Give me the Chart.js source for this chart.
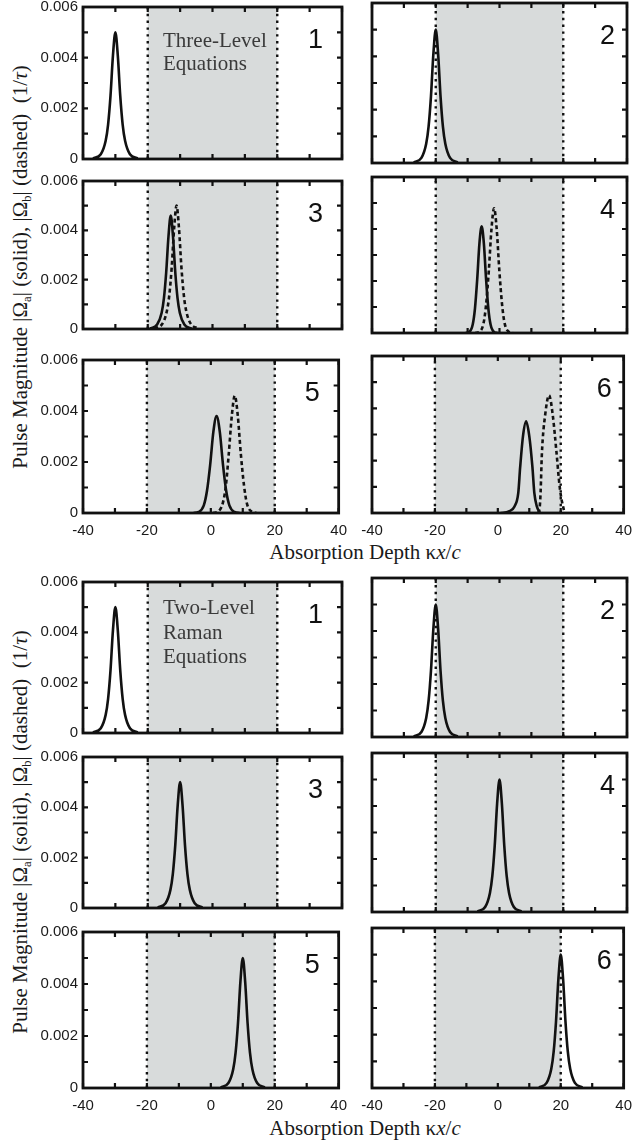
<!DOCTYPE html>
<html>
<head>
<meta charset="utf-8">
<title>Pulse magnitude panels</title>
<script src="https://cdn.jsdelivr.net/npm/chart.js@4.4.0/dist/chart.umd.min.js"></script>
<style>
  html, body { margin: 0; padding: 0; overflow: hidden; background: #fff; }
  body { position: relative; width: 636px; height: 1145px; }
  .panel { position: absolute; }
  .ytitle {
    position: absolute; white-space: nowrap; color: #1a1a1a;
    font: 21px "Liberation Serif", "Times New Roman", serif; line-height: 21px;
    transform: translate(-50%, -50%) rotate(-90deg);
  }
  .ytitle sub { font-size: 60%; vertical-align: -0.25em; }
  .xtitle {
    position: absolute; white-space: nowrap; color: #1a1a1a;
    font: 21px "Liberation Serif", "Times New Roman", serif; line-height: 21px;
    transform: translateX(-50%);
  }
</style>
</head>
<body>

<div class="ytitle" style="left:24px; top:267px;">Pulse Magnitude |&Omega;<sub>a</sub>| (solid), |&Omega;<sub>b</sub>| (dashed)&nbsp; (1/<i>&tau;</i>)</div>
<div class="ytitle" style="left:24px; top:832px;">Pulse Magnitude |&Omega;<sub>a</sub>| (solid), |&Omega;<sub>b</sub>| (dashed)&nbsp; (1/<i>&tau;</i>)</div>
<div class="xtitle" style="left:365px; top:542px;">Absorption Depth &kappa;<i>x</i>/<i>c</i></div>
<div class="xtitle" style="left:365px; top:1118px;">Absorption Depth &kappa;<i>x</i>/<i>c</i></div>

<script>
// axis ticks
var xTicks = [-40, -20, 0, 20, 40];
var xMinor = [-40, -30, -20, -10, 0, 10, 20, 30, 40];
var yTicks = [0, 0.002, 0.004, 0.006];
var yMinor = [0, 0.001, 0.002, 0.003, 0.004, 0.005, 0.006];
var mediumEdges = [-20, 20];
var panelNames = ['1', '2', '3', '4', '5', '6'];
var threeLevelNote = ['Three-Level', 'Equations'];
var ramanNote = ['Two-Level', 'Raman', 'Equations'];

// three-level equations, |Omega_a| (solid)
var threeSolidX = [
  [-36.9, -34.5, -33, -32.25, -31.5, -30.75, -30, -29.25, -28.5, -27.75, -27, -25.5, -23.1],
  [-26.9, -24.5, -23, -22.25, -21.5, -20.75, -20, -19.25, -18.5, -17.75, -17, -15.5, -13.1],
  [-19.3, -17.1, -15.7, -15, -14.3, -13.6, -12.9, -12.2, -11.5, -10.8, -10.1, -8.7, -6.5],
  [-10.6, -9.5, -8.4, -7.7, -7, -6.3, -5.6, -4.9, -4.2, -3.5, -2.8, -1.7, -0.6],
  [-5.4, -3.8, -2.2, -1.2, -0.2, 0.8, 1.8, 2.8, 3.8, 4.8, 5.8, 7.4, 9],
  [1, 3.5, 5.3, 6.5, 7.1, 8, 9, 10, 11, 11.6, 12.4, 13.4]
];
var threeSolidY = [
  [0.000025, 0.00019, 0.00072, 0.00136, 0.0025, 0.00408, 0.005, 0.00408, 0.0025, 0.00136, 0.00072, 0.00019, 0.000025],
  [0.000025, 0.00019, 0.00072, 0.00136, 0.0025, 0.00408, 0.005, 0.00408, 0.0025, 0.00136, 0.00072, 0.00019, 0.000025],
  [0.00002, 0.00018, 0.00066, 0.00125, 0.0023, 0.00375, 0.0046, 0.00375, 0.0023, 0.00125, 0.00066, 0.00018, 0.00002],
  [0, 0.00004, 0.00033, 0.00094, 0.00205, 0.00344, 0.0041, 0.00344, 0.00205, 0.00094, 0.00033, 0.00004, 0],
  [0, 0.00004, 0.0003, 0.00087, 0.0019, 0.00319, 0.0038, 0.00319, 0.0019, 0.00087, 0.0003, 0.00004, 0],
  [0, 0.00006, 0.00025, 0.00077, 0.00175, 0.00294, 0.0035, 0.00294, 0.00175, 0.00077, 0.00025, 0]
];

// three-level equations, |Omega_b| (dashed)
var threeDashX = [
  [],
  [],
  [-18, -15.6, -14.1, -13.35, -12.6, -11.85, -11.1, -10.35, -9.6, -8.85, -8.1, -6.6, -4.2],
  [-7.6, -6.3, -5, -4.2, -3.35, -2.5, -1.7, -0.9, -0.05, 0.8, 1.6, 2.9, 4.2],
  [0.7, 2.2, 3.7, 4.7, 5.6, 6.6, 7.5, 8.4, 9.4, 10.4, 11.3, 12.8, 14.3],
  [12.8, 13.3, 13.6, 14, 15.1, 16.3, 17.4, 18.7, 19.4, 20, 21.2]
];
var threeDashY = [
  [],
  [],
  [0.000025, 0.00019, 0.00072, 0.00136, 0.0025, 0.00408, 0.005, 0.00408, 0.0025, 0.00136, 0.00072, 0.00019, 0.000025],
  [0, 0.00005, 0.00038, 0.0011, 0.0024, 0.00403, 0.0048, 0.00403, 0.0024, 0.0011, 0.00038, 0.00005, 0],
  [0, 0.00005, 0.00037, 0.00106, 0.0023, 0.00386, 0.0046, 0.00386, 0.0023, 0.00106, 0.00037, 0.00005, 0],
  [0, 0.0002, 0.0008, 0.00225, 0.0038, 0.0045, 0.0038, 0.00225, 0.0013, 0.0007, 0]
];

// two-level Raman equations, |Omega_a| (solid)
var ramanX = [
  [-36.9, -34.5, -33, -32.25, -31.5, -30.75, -30, -29.25, -28.5, -27.75, -27, -25.5, -23.1],
  [-26.9, -24.5, -23, -22.25, -21.5, -20.75, -20, -19.25, -18.5, -17.75, -17, -15.5, -13.1],
  [-16.9, -14.5, -13, -12.25, -11.5, -10.75, -10, -9.25, -8.5, -7.75, -7, -5.5, -3.1],
  [-6.9, -4.5, -3, -2.25, -1.5, -0.75, 0, 0.75, 1.5, 2.25, 3, 4.5, 6.9],
  [3.1, 5.5, 7, 7.75, 8.5, 9.25, 10, 10.75, 11.5, 12.25, 13, 14.5, 16.9],
  [13.1, 15.5, 17, 17.75, 18.5, 19.25, 20, 20.75, 21.5, 22.25, 23, 24.5, 26.9]
];
var ramanY = [0.000025, 0.00019, 0.00072, 0.00136, 0.0025, 0.00408, 0.005, 0.00408, 0.0025, 0.00136, 0.00072, 0.00019, 0.000025];

// page layout
var colLeft = [83, 372];
var colRight = [342, 627];
var axisRoom = [83, 22];
var groups = [
  { tops: [3, 177, 356], bottoms: [163, 333, 513], note: threeLevelNote, noteTop: 40, noteStep: 22.5 },
  { tops: [578, 753, 928], bottoms: [737, 912, 1088], note: ramanNote, noteTop: 32, noteStep: 24.5 }
];

var tickFont = { family: '"Liberation Sans", Arial, sans-serif', size: 15 };

function pts(xs, ys) {
  return xs.map(function (x, i) { return { x: x, y: ys[i] }; });
}

function edgeLine(v) {
  return {
    data: [{ x: v, y: 0 }, { x: v, y: 0.006 }],
    showLine: true, pointRadius: 0, borderColor: '#111', borderWidth: 2.4,
    borderDash: [2.4, 4.4], borderCapStyle: 'butt'
  };
}

function pulse(xs, ys, dashed) {
  return {
    data: pts(xs, ys),
    showLine: true, pointRadius: 0, borderColor: '#111', borderWidth: 2.6,
    borderDash: dashed ? [4, 3] : [], cubicInterpolationMode: 'monotone', fill: false
  };
}

function framePlugin(info) {
  return {
    id: 'frame' + info.k,
    beforeDatasetsDraw: function (chart) {
      var a = chart.chartArea, sx = chart.scales.x, ctx = chart.ctx;
      var x0 = sx.getPixelForValue(mediumEdges[0]);
      var x1 = sx.getPixelForValue(mediumEdges[1]);
      ctx.save();
      ctx.fillStyle = '#d8dbdb';
      ctx.fillRect(x0, a.top, x1 - x0, a.bottom - a.top);
      ctx.restore();
    },
    afterDraw: function (chart) {
      var a = chart.chartArea, sx = chart.scales.x, sy = chart.scales.y, ctx = chart.ctx;
      ctx.save();
      ctx.strokeStyle = '#111';
      ctx.lineWidth = 2.2;
      ctx.beginPath();
      xMinor.forEach(function (v) {
        var p = sx.getPixelForValue(v);
        ctx.moveTo(p, a.top); ctx.lineTo(p, a.top + 5);
        ctx.moveTo(p, a.bottom); ctx.lineTo(p, a.bottom - 5);
      });
      yMinor.forEach(function (v) {
        var p = sy.getPixelForValue(v);
        ctx.moveTo(a.left, p); ctx.lineTo(a.left + 5, p);
        ctx.moveTo(a.right, p); ctx.lineTo(a.right - 5, p);
      });
      ctx.stroke();
      ctx.lineWidth = 2.8;
      ctx.strokeRect(a.left, a.top, a.right - a.left, a.bottom - a.top);

      // panel number
      ctx.fillStyle = '#111';
      ctx.font = '27px "Liberation Sans", Arial, sans-serif';
      ctx.textAlign = 'right';
      ctx.textBaseline = 'alphabetic';
      ctx.fillText(panelNames[info.k], a.right - (info.col === 0 ? 19 : 12), a.top + 41);

      // equations note in the first panel
      if (info.k === 0) {
        ctx.fillStyle = '#3a3a3a';
        ctx.font = '21px "Liberation Serif", "Times New Roman", serif';
        ctx.textAlign = 'left';
        info.group.note.forEach(function (line, i) {
          ctx.fillText(line, a.left + 80, a.top + info.group.noteTop + i * info.group.noteStep);
        });
      }
      ctx.restore();
    }
  };
}

function makePanel(g, row, col) {
  var group = groups[g];
  var k = row * 2 + col;
  var isBottom = row === 2;
  var padT = 10, padB = 10, padR = 14;
  var xH = isBottom ? 32 : 0;
  var top = group.tops[row], bottom = group.bottoms[row];
  var left = colLeft[col] - axisRoom[col];
  var w = colRight[col] - left + padR;
  var h = bottom - top + padT + padB + xH;

  var div = document.createElement('div');
  div.className = 'panel';
  div.style.left = left + 'px';
  div.style.top = (top - padT) + 'px';
  div.style.width = w + 'px';
  div.style.height = h + 'px';
  var canvas = document.createElement('canvas');
  canvas.width = w;
  canvas.height = h;
  div.appendChild(canvas);
  document.body.appendChild(div);

  var datasets = [edgeLine(mediumEdges[0]), edgeLine(mediumEdges[1])];
  if (g === 0) {
    datasets.push(pulse(threeSolidX[k], threeSolidY[k], false));
    if (threeDashX[k].length) datasets.push(pulse(threeDashX[k], threeDashY[k], true));
  } else {
    datasets.push(pulse(ramanX[k], ramanY, false));
  }

  new Chart(canvas, {
    type: 'scatter',
    data: { datasets: datasets },
    options: {
      responsive: false,
      animation: false,
      layout: { padding: { top: padT, bottom: padB, left: 0, right: padR } },
      plugins: { legend: { display: false }, tooltip: { enabled: false } },
      scales: {
        x: {
          type: 'linear', min: -40, max: 40,
          grid: { display: false, drawTicks: false },
          border: { display: false },
          afterBuildTicks: function (s) { s.ticks = xTicks.map(function (v) { return { value: v }; }); },
          ticks: {
            display: isBottom, padding: 9, color: '#1a1a1a', font: tickFont,
            maxRotation: 0, autoSkip: false,
            callback: function (v) { return String(v); }
          },
          afterFit: function (s) { s.height = xH; }
        },
        y: {
          type: 'linear', min: 0, max: 0.006,
          grid: { display: false, drawTicks: false },
          border: { display: false },
          afterBuildTicks: function (s) { s.ticks = yTicks.map(function (v) { return { value: v }; }); },
          ticks: {
            display: col === 0, padding: 5, color: '#1a1a1a', font: tickFont,
            callback: function (v) { return v === 0 ? '0' : v.toFixed(3); }
          },
          afterFit: function (s) { s.width = axisRoom[col]; }
        }
      }
    },
    plugins: [framePlugin({ k: k, col: col, group: group })]
  });
}

for (var g = 0; g < 2; g++) {
  for (var r = 0; r < 3; r++) {
    makePanel(g, r, 0);
    makePanel(g, r, 1);
  }
}
</script>
</body>
</html>
